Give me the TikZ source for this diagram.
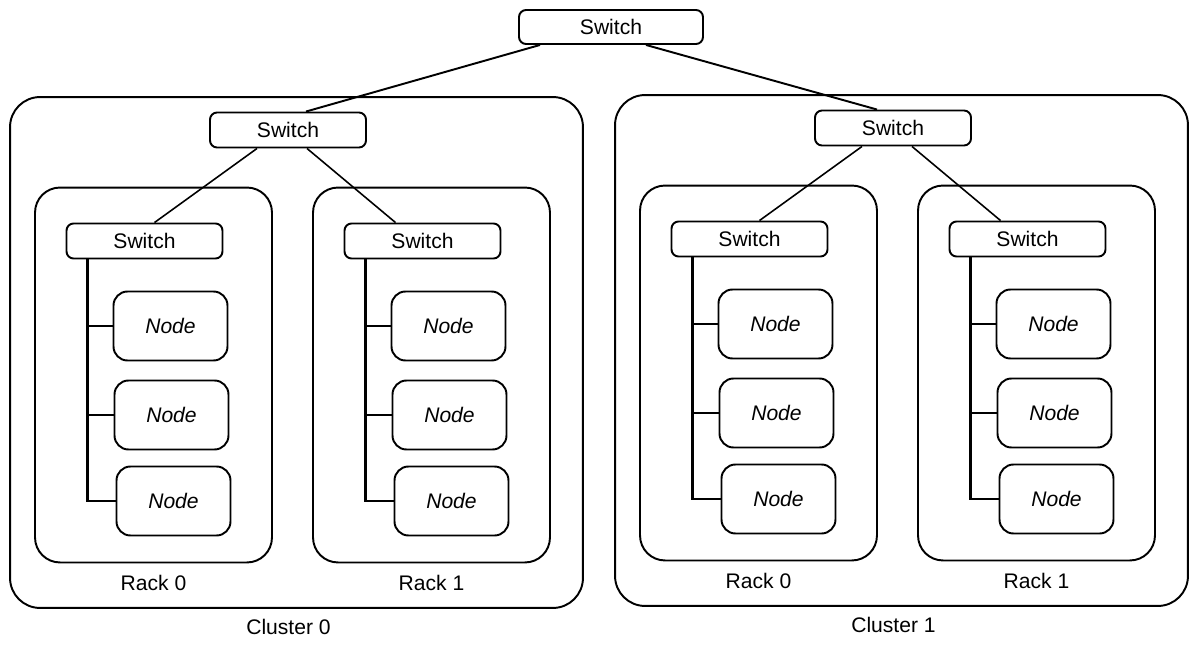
\documentclass[tikz,border=0pt]{standalone}
\usepackage{fontspec}
\setmainfont{Liberation Sans}
\usetikzlibrary{positioning}
\tikzset{
  box_n/.style = {draw=black, line width=1.1pt, inner sep=0pt, align=center,
    font=\fontsize{12}{14}\selectfont},
  sw_n/.style = {box_n, rounded corners=0.14cm, minimum width=3.12cm,
    minimum height=0.7cm},
  nd_n/.style = {box_n, rounded corners=0.28cm, minimum width=2.28cm,
    minimum height=1.38cm},
  rack_n/.style = {box_n, rounded corners=0.5cm, minimum width=4.74cm,
    minimum height=7.5cm},
  clus_n/.style = {box_n, rounded corners=0.6cm, minimum width=11.46cm,
    minimum height=10.22cm},
  txt_n/.style = {inner sep=0pt, font=\fontsize{12}{14}\selectfont},
  link/.style = {draw=black, line width=0.9pt},
  bus/.style = {draw=black, line width=1.4pt}}

\begin{document}
\begin{tikzpicture}[x=0.02cm,y=-0.02cm]
 \useasboundingbox (0,0) rectangle (1198,649);

 % core switch
 \node [sw_n, minimum width=3.68cm, minimum height=0.68cm] (top) at (611,27) {Switch};

 \foreach \c/\cx/\cy in {0/10/97, 1/615/95} {
   % cluster box and its switch
   \node [clus_n] (cl\c) at ({\cx+286.5},{\cy+255.5}) {};
   \node [txt_n] (clt\c) at ([xshift=-0.16cm,yshift=-0.36cm]cl\c.south) {Cluster \c};
   \node [sw_n] (cs\c) at ({\cx+278},{\cy+33}) {Switch};

   \foreach \r/\rx in {0/143.5, 1/421.5} {
     \pgfmathsetmacro{\X}{\cx+\rx}
     \pgfmathsetmacro{\Y}{\cy+278}
     \node [rack_n] (r\c\r) at (\X,\Y) {};
     \node [txt_n] (rt\c\r) at ([yshift=-0.4cm]r\c\r.south) {Rack \r};
     \node [sw_n] (s\c\r) at ({\X-9},{\Y-134}) {Switch};
     \node [nd_n] (n\c\r a) at ({\X+17},{\Y-49}) {\itshape Node};
     \node [nd_n] (n\c\r b) at ({\X+18},{\Y+40}) {\itshape Node};
     \node [nd_n] (n\c\r c) at ({\X+20},{\Y+126}) {\itshape Node};
     % rack bus
     \coordinate (b\c\r) at ([xshift=0.44cm]s\c\r.south west);
     \draw [bus] (b\c\r) |- (n\c\r c.west);
     \draw [link] (n\c\r a.west -| b\c\r) -- (n\c\r a.west);
     \draw [link] (n\c\r b.west -| b\c\r) -- (n\c\r b.west);
   }

   \draw [link] ([xshift=-0.62cm]cs\c.south) -- ([xshift=0.2cm]s\c0.north);
   \draw [link] ([xshift=0.38cm]cs\c.south) -- ([xshift=-0.54cm]s\c1.north);
 }

 \draw [link, line width=1.1pt] ([xshift=-1.42cm]top.south) -- ([xshift=0.36cm]cs0.north);
 \draw [link, line width=1.1pt] ([xshift=0.7cm]top.south) -- ([xshift=-0.32cm]cs1.north);
\end{tikzpicture}
\end{document}
